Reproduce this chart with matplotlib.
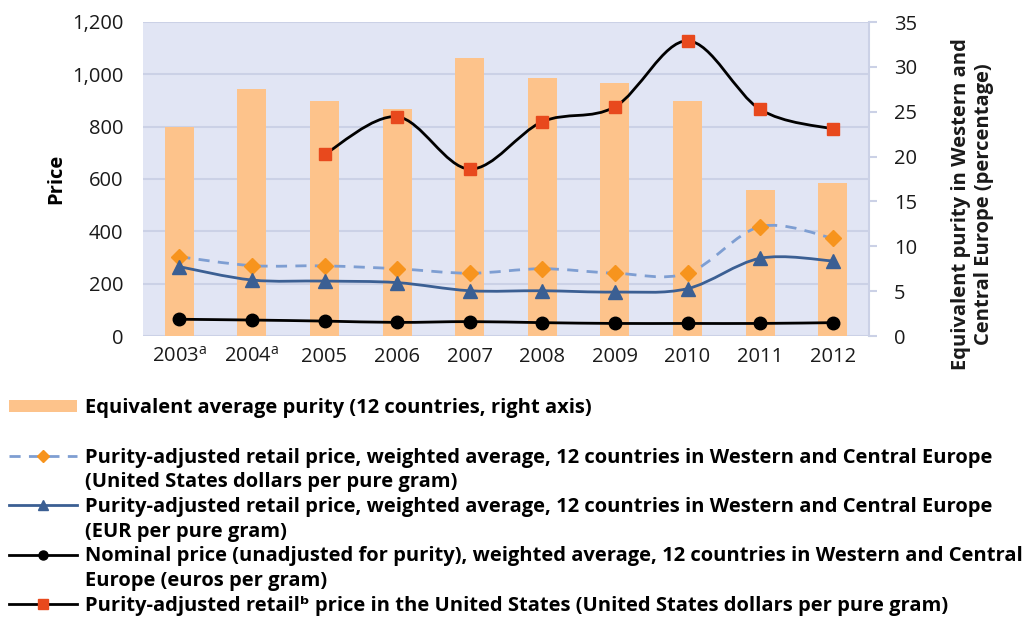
import matplotlib
matplotlib.use("Agg")
import matplotlib.pyplot as plt
import numpy as np
from matplotlib.path import Path
from matplotlib.patches import PathPatch, Patch
from matplotlib.lines import Line2D

plt.rcParams["font.family"] = ["Open Sans", "DejaVu Sans"]
plt.rcParams["mathtext.fontset"] = "custom"
plt.rcParams["mathtext.rm"] = "Open Sans"
plt.rcParams["mathtext.bf"] = "Open Sans:bold"

YEARS = ["2003$^{\\mathrm{a}}$", "2004$^{\\mathrm{a}}$", "2005", "2006", "2007",
         "2008", "2009", "2010", "2011", "2012"]
PURITY = [23.3, 27.5, 26.2, 25.3, 31.0, 28.8, 28.2, 26.2, 16.3, 17.1]
USD_EUROPE = [303, 269, 268, 257, 240, 257, 240, 240, 418, 374]
EUR_EUROPE = [265, 214, 210, 204, 173, 173, 168, 181, 297, 287]
NOMINAL = [64, 61, 57, 52, 55, 51, 48, 48, 48, 51]
USD_US = [np.nan, np.nan, 694, 838, 638, 819, 876, 1128, 866, 791]

# legend text, one list item per printed line (second lines get no handle)
LABELS = [
    "Equivalent average purity (12 countries, right axis)",
    " ",
    "Purity-adjusted retail price, weighted average, 12 countries in Western and Central Europe",
    "(United States dollars per pure gram)",
    "Purity-adjusted retail price, weighted average, 12 countries in Western and Central Europe",
    "(EUR per pure gram)",
    "Nominal price (unadjusted for purity), weighted average, 12 countries in Western and Central",
    "Europe (euros per gram)",
    "Purity-adjusted retail\u1d47 price in the United States (United States dollars per pure gram)",
]

BAR_C = "#FDC38B"
BG_C = "#E1E5F4"
GRID_C = "#CBD1E6"
DASH_C = "#7E9ED2"
DIAM_C = "#F7941D"
EUR_C = "#3B5F93"
RED_C = "#E8491D"
TXT_C = "#1a1a1a"


def smooth_path(x, y):
    # Excel-style smoothed line as cubic bezier segments
    pts = np.column_stack([x, y])
    pts = pts[~np.isnan(pts[:, 1])]
    n = len(pts)
    verts, codes = [pts[0]], [Path.MOVETO]
    for i in range(n - 1):
        p0, p1 = pts[max(i - 1, 0)], pts[i]
        p2, p3 = pts[i + 1], pts[min(i + 2, n - 1)]
        verts += [p1 + (p2 - p0) / 6, p2 - (p3 - p1) / 6, p2]
        codes += [Path.CURVE4] * 3
    return Path(verts, codes)


fig = plt.figure(figsize=(10.27, 6.22), dpi=100)
rect = [143 / 1027, 1 - 336 / 622, 726 / 1027, 314 / 622]
ax = fig.add_axes(rect)
ax2 = ax.twinx()
ax3 = fig.add_axes(rect, sharex=ax, sharey=ax, frameon=False)

x = np.arange(len(YEARS))

# price axis (left) with grid and background
ax.set_facecolor(BG_C)
ax.set_ylim(0, 1200)
ax.set_yticks(np.arange(0, 1201, 200))
ax.set_yticklabels([f"{v:,}" for v in range(0, 1201, 200)])
ax.grid(True, axis="y", color=GRID_C, linewidth=1.5)
ax.set_axisbelow(True)
ax.set_xlim(-0.5, len(YEARS) - 0.5)
ax.set_xticks(x)
ax.set_xticklabels(YEARS)
for s in ax.spines.values():
    s.set_visible(False)
ax.tick_params(axis="both", length=0, labelsize=14.5, colors=TXT_C)
ax.tick_params(axis="y", pad=14)
ax.tick_params(axis="x", pad=8)
ax.set_ylabel("Price", fontsize=14.5, fontweight="bold", labelpad=4)

# purity axis (right) with bars
ax2.bar(x, PURITY, width=0.4, color=BAR_C, zorder=1)
ax2.set_ylim(0, 35)
ax2.set_yticks(np.arange(0, 36, 5))
for k in ["top", "left", "bottom"]:
    ax2.spines[k].set_visible(False)
ax2.spines["right"].set_color(GRID_C)
ax2.spines["right"].set_linewidth(1.5)
ax2.tick_params(axis="y", length=6, width=1.5, color=GRID_C, labelsize=14.5,
                labelcolor=TXT_C, pad=12)

# price lines on top
ax3.patch.set_visible(False)
ax3.axis("off")
ax3.add_patch(PathPatch(smooth_path(x, USD_EUROPE), fill=False, edgecolor=DASH_C,
                        lw=2, linestyle=(0, (4, 3))))
ax3.add_patch(PathPatch(smooth_path(x, EUR_EUROPE), fill=False, edgecolor=EUR_C, lw=2))
ax3.add_patch(PathPatch(smooth_path(x, NOMINAL), fill=False, edgecolor="black", lw=2))
ax3.add_patch(PathPatch(smooth_path(x, USD_US), fill=False, edgecolor="black", lw=2))
ax3.plot(x, USD_EUROPE, ls="none", marker="D", ms=8.5, color=DIAM_C, mec=DIAM_C)
ax3.plot(x, EUR_EUROPE, ls="none", marker="^", ms=10, color=EUR_C)
ax3.plot(x, NOMINAL, ls="none", marker="o", ms=9, color="black")
ax3.plot(x, USD_US, ls="none", marker="s", ms=8.5, color=RED_C)

fig.text(0.947, 0.405, "Equivalent purity in Western and\nCentral Europe (percentage)",
         rotation=90, ha="center", va="bottom", fontsize=14.5, fontweight="bold",
         linespacing=1.15, color=TXT_C)

blank = Line2D([], [], color="none")
handles = [
    Patch(facecolor=BAR_C, edgecolor="none"),
    blank,
    Line2D([], [], color=DASH_C, lw=2, ls=(0, (4, 3)), marker="D", ms=6, mfc=DIAM_C, mec=DIAM_C),
    blank,
    Line2D([], [], color=EUR_C, lw=2, marker="^", ms=7),
    blank,
    Line2D([], [], color="black", lw=2, marker="o", ms=6.5),
    blank,
    Line2D([], [], color="black", lw=2, marker="s", ms=7, mfc=RED_C, mec=RED_C),
]
leg = fig.legend(handles, LABELS, loc="upper left", bbox_to_anchor=(0.009, 0.36),
                 frameon=False, handlelength=3.35, handleheight=0.6, handletextpad=0.41,
                 borderpad=0, borderaxespad=0, labelspacing=0.235,
                 prop={"size": 14.5, "weight": "bold"})

fig.savefig("out.png", dpi=100)
